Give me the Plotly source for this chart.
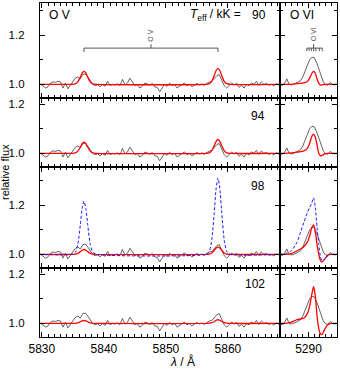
import plotly.graph_objects as go
from plotly.subplots import make_subplots

# --- data -------------------------------------------------------------
teff_labels = ["90", "94", "98", "102"]

# observed spectrum, O V region
wave_obs_ov = [5829.8, 5830.2, 5830.6, 5831.0, 5831.4, 5831.8, 5832.2, 5832.6, 5833.0, 5833.4,
               5833.8, 5834.2, 5834.6, 5835.0, 5835.4, 5835.8, 5836.2, 5836.6, 5837.0, 5837.4,
               5837.8, 5838.2, 5838.6, 5839.0, 5839.4, 5839.8, 5840.2, 5840.6, 5841.0, 5841.4,
               5841.8, 5842.2, 5842.6, 5843.0, 5843.4, 5843.8, 5844.2, 5844.6, 5845.0, 5845.4,
               5845.8, 5846.2, 5846.6, 5847.0, 5847.4, 5847.8, 5848.2, 5848.6, 5849.0, 5849.4,
               5849.8, 5850.2, 5850.6, 5851.0, 5851.4, 5851.8, 5852.2, 5852.6, 5853.0, 5853.4,
               5853.8, 5854.2, 5854.6, 5855.0, 5855.4, 5855.8, 5856.2, 5856.6, 5857.0, 5857.4,
               5857.8, 5858.2, 5858.6, 5859.0, 5859.4, 5859.8, 5860.2, 5860.6, 5861.0, 5861.4,
               5861.8, 5862.2, 5862.6, 5863.0, 5863.4, 5863.8, 5864.2, 5864.6, 5865.0, 5865.4,
               5865.8, 5866.2, 5866.6, 5867.0, 5867.4, 5867.8, 5868.2]
flux_obs_ov = [1.000, 0.992, 0.985, 0.990, 1.005, 1.010, 1.008, 1.012, 1.010, 0.985,
               1.005, 0.982, 0.998, 1.010, 1.025, 1.030, 1.022, 1.040, 1.042, 1.030,
               1.012, 1.000, 0.995, 0.998, 0.990, 1.000, 0.992, 1.012, 0.995, 1.000,
               0.998, 1.002, 0.995, 1.020, 0.998, 1.005, 1.025, 1.008, 0.995, 1.000,
               0.985, 0.992, 1.005, 1.002, 0.996, 1.004, 0.990, 0.988, 0.970, 0.985,
               1.000, 0.992, 1.005, 0.995, 1.000, 0.985, 0.993, 0.998, 1.006, 0.994,
               1.000, 0.990, 0.996, 1.004, 0.998, 1.002, 0.996, 1.004, 1.010, 1.012,
               1.022, 1.035, 1.040, 1.020, 0.995, 0.985, 0.995, 1.005, 0.998, 1.004,
               0.988, 0.996, 0.985, 1.000, 0.994, 1.006, 1.000, 1.012, 0.996, 1.010,
               1.000, 1.004, 0.996, 1.000, 0.994, 1.002, 0.998]

# model spectra, O V region
wave_mod_ov = [5829.7, 5834.8, 5835.4, 5835.8, 5836.2, 5836.5, 5836.8, 5837.1, 5837.4, 5837.8,
               5838.2, 5838.8, 5856.4, 5857.0, 5857.4, 5857.8, 5858.1, 5858.4, 5858.7, 5859.0,
               5859.4, 5859.8, 5860.4, 5868.4]
flux_ov_90 = [1.0, 1.0, 1.002, 1.010, 1.029, 1.046, 1.053, 1.046, 1.029, 1.010, 1.002, 1.0,
              1.0, 1.003, 1.012, 1.036, 1.056, 1.065, 1.056, 1.036, 1.012, 1.003, 1.0, 1.0]
flux_ov_94 = [1.0, 1.0, 1.002, 1.009, 1.025, 1.039, 1.045, 1.039, 1.025, 1.009, 1.002, 1.0,
              1.0, 1.002, 1.011, 1.031, 1.049, 1.057, 1.049, 1.031, 1.011, 1.002, 1.0, 1.0]
flux_ov_98 = [1.0, 1.0, 1.001, 1.004, 1.011, 1.017, 1.020, 1.017, 1.011, 1.004, 1.001, 1.0,
              1.0, 1.001, 1.006, 1.017, 1.026, 1.030, 1.026, 1.017, 1.006, 1.001, 1.0, 1.0]
flux_ov_98_alt = [1.0, 1.0, 1.009, 1.041, 1.119, 1.186, 1.216, 1.186, 1.119, 1.041, 1.009, 1.0,
                  1.0, 1.012, 1.059, 1.171, 1.267, 1.310, 1.267, 1.171, 1.059, 1.012, 1.0, 1.0]
flux_ov_102 = [1.0, 1.0, 1.000, 1.002, 1.007, 1.010, 1.012, 1.010, 1.007, 1.002, 1.000, 1.0,
               1.0, 1.001, 1.003, 1.008, 1.013, 1.015, 1.013, 1.008, 1.003, 1.001, 1.0, 1.0]

# observed spectrum, O VI region
wave_obs_ovi = [5287.5, 5287.7, 5287.9, 5288.1, 5288.3, 5288.5, 5288.7, 5288.9, 5289.1, 5289.3,
                5289.5, 5289.7, 5289.9, 5290.1, 5290.3, 5290.5, 5290.7, 5290.9, 5291.1, 5291.3,
                5291.5, 5291.7, 5291.9, 5292.1, 5292.3, 5292.5]
flux_obs_ovi = [1.000, 0.995, 1.005, 1.022, 1.000, 0.998, 1.000, 1.004, 1.008, 1.015,
                1.030, 1.055, 1.080, 1.100, 1.110, 1.108, 1.090, 1.060, 1.030, 1.010,
                0.998, 0.997, 1.008, 1.000, 0.998, 1.000]

# model spectra, O VI region
wave_mod_ovi = [5287.5, 5288.0, 5288.5, 5289.0, 5289.3, 5289.6, 5289.9, 5290.1, 5290.3, 5290.45,
                5290.6, 5290.75, 5290.9, 5291.05, 5291.2, 5291.4, 5291.7, 5292.0, 5292.5]
flux_ovi_90 = [1.0, 1.0, 1.0, 1.003, 1.004, 1.006, 1.012, 1.025, 1.045, 1.053,
               1.045, 1.022, 1.005, 0.997, 0.998, 1.0, 1.0, 1.0, 1.0]
flux_ovi_94 = [1.0, 1.0, 1.002, 1.005, 1.007, 1.010, 1.020, 1.040, 1.070, 1.078,
               1.065, 1.035, 1.000, 0.990, 0.992, 0.998, 1.0, 1.0, 1.0]
flux_ovi_98 = [1.0, 1.0, 1.003, 1.015, 1.022, 1.032, 1.050, 1.075, 1.110, 1.120,
               1.090, 1.040, 1.000, 0.975, 0.970, 0.980, 0.997, 1.0, 1.0]
flux_ovi_98_alt = [1.0, 1.003, 1.015, 1.050, 1.090, 1.130, 1.170, 1.190, 1.210, 1.230,
                   1.190, 1.110, 1.040, 0.990, 0.972, 0.980, 0.995, 1.0, 1.0]
flux_ovi_102 = [1.0, 1.0, 1.005, 1.015, 1.018, 1.022, 1.040, 1.070, 1.120, 1.150,
                1.110, 1.030, 0.980, 0.957, 0.955, 0.975, 0.995, 1.0, 1.0]

ov_model = [flux_ov_90, flux_ov_94, flux_ov_98, flux_ov_102]
ovi_model = [flux_ovi_90, flux_ovi_94, flux_ovi_98, flux_ovi_102]

# line identifications
ov_lines = [5836.8, 5858.4]
ovi_components = [5289.85, 5290.05, 5290.25, 5290.45, 5290.65, 5290.95, 5291.2]

y_ranges = [[0.945, 1.33], [0.945, 1.225], [0.945, 1.355], [0.945, 1.225]]

# --- figure -----------------------------------------------------------
W, H = 340, 371
ML, MR, MT, MB = 40, 3, 3, 34
spans = [r[1] - r[0] for r in y_ranges]

fig = make_subplots(rows=4, cols=2, column_widths=[240, 57], row_heights=spans,
                    horizontal_spacing=0, vertical_spacing=0)

GRAY = "#3c3c3c"
RED = "#ff0000"
BLUE = "#1a1aff"

for i in range(4):
    r = i + 1
    fig.add_trace(go.Scatter(x=wave_obs_ov, y=flux_obs_ov, mode="lines",
                             line=dict(color=GRAY, width=0.8)), row=r, col=1)
    fig.add_trace(go.Scatter(x=wave_mod_ov, y=ov_model[i], mode="lines",
                             line=dict(color=RED, width=1.3, shape="spline", smoothing=0.6)), row=r, col=1)
    fig.add_trace(go.Scatter(x=wave_obs_ovi, y=flux_obs_ovi, mode="lines",
                             line=dict(color=GRAY, width=0.8)), row=r, col=2)
    fig.add_trace(go.Scatter(x=wave_mod_ovi, y=ovi_model[i], mode="lines",
                             line=dict(color=RED, width=1.3, shape="spline", smoothing=0.6)), row=r, col=2)
    if i == 2:
        fig.add_trace(go.Scatter(x=wave_mod_ov, y=flux_ov_98_alt, mode="lines",
                                 line=dict(color=BLUE, width=1, dash="3px,2px", shape="spline", smoothing=0.6)),
                      row=r, col=1)
        fig.add_trace(go.Scatter(x=wave_mod_ovi, y=flux_ovi_98_alt, mode="lines",
                                 line=dict(color=BLUE, width=1, dash="3px,2px", shape="spline", smoothing=0.6)),
                      row=r, col=2)

axis_style = dict(showline=True, linecolor="black", linewidth=1.2, mirror="ticks",
                  ticks="inside", ticklen=5, tickwidth=1, tickcolor="black",
                  showgrid=False, zeroline=False,
                  tickfont=dict(family="Liberation Sans, Arial", size=12, color="black"))

for i in range(4):
    r = i + 1
    last = (r == 4)
    fig.update_xaxes(axis_style, range=[5829.7, 5868.4], tick0=5830, dtick=10,
                     minor=dict(ticks="inside", ticklen=3, dtick=1, tickcolor="black"),
                     showticklabels=last, ticklabelstandoff=0, row=r, col=1)
    fig.update_xaxes(axis_style, range=[5287.5, 5292.5], tick0=5290, dtick=5,
                     minor=dict(ticks="inside", ticklen=3, dtick=0.5, tickcolor="black"),
                     showticklabels=last, ticklabelstandoff=0, row=r, col=2)
    fig.update_yaxes(axis_style, range=y_ranges[i], tick0=1.0, dtick=0.2, tickformat=".1f",
                     tickfont=dict(family="Liberation Sans, Arial", size=11.5, color="black"),
                     minor=dict(ticks="inside", ticklen=3, dtick=0.1, tickcolor="black"),
                     showticklabels=True, ticklabelstandoff=12, row=r, col=1)
    fig.update_yaxes(axis_style, range=y_ranges[i], tick0=1.0, dtick=0.2,
                     minor=dict(ticks="inside", ticklen=3, dtick=0.1, tickcolor="black"),
                     showticklabels=False, row=r, col=2)


def paper(px, py):
    return (px - ML) / (W - ML - MR), (H - MB - py) / (H - MT - MB)


FONT = dict(family="Liberation Sans, Arial", size=12, color="black")
notes = [
    ("O V", 47, 15, "left"),
    ("<i>T</i><sub>eff</sub> / kK =", 243, 15, "right"),
    (teff_labels[0], 268, 15, "right"),
    ("O VI", 288, 15, "left"),
    (teff_labels[1], 267, 116, "right"),
    (teff_labels[2], 267, 186, "right"),
    (teff_labels[3], 267, 284, "right"),
]
for text, px, py, anchor in notes:
    xp, yp = paper(px, py)
    fig.add_annotation(x=xp, y=yp, xref="paper", yref="paper", text=text, showarrow=False,
                       xanchor=anchor, yanchor="middle", font=FONT)

xp, yp = paper(5, 172)
fig.add_annotation(x=xp, y=yp, xref="paper", yref="paper", text="relative flux", textangle=-90,
                   showarrow=False, xanchor="center", yanchor="middle",
                   font=dict(family="Liberation Sans, Arial", size=11, color="black"))
xp, yp = paper(182, 371)
fig.add_annotation(x=xp, y=yp, xref="paper", yref="paper", text="<i>λ</i> / Å",
                   showarrow=False, xanchor="center", yanchor="bottom", font=FONT)

# O V line identification bracket
ID_COLOR = "#555555"
ybar = 1.147
ov_mid = (ov_lines[0] + ov_lines[1]) / 2
fig.add_shape(type="line", x0=ov_lines[0], x1=ov_lines[1], y0=ybar, y1=ybar,
              line=dict(color=ID_COLOR, width=1), xref="x", yref="y")
for lw in ov_lines:
    fig.add_shape(type="line", x0=lw, x1=lw, y0=ybar, y1=ybar - 0.016,
                  line=dict(color=ID_COLOR, width=1), xref="x", yref="y")
fig.add_shape(type="line", x0=ov_mid, x1=ov_mid, y0=ybar, y1=ybar + 0.016,
              line=dict(color=ID_COLOR, width=1), xref="x", yref="y")
fig.add_annotation(x=ov_mid, y=ybar + 0.018, xref="x", yref="y", text="O V", textangle=-90,
                   showarrow=False, xanchor="center", yanchor="bottom",
                   font=dict(family="Liberation Sans, Arial", size=7, color=ID_COLOR))

# O VI line identification
ovi_mid = ovi_components[3]
fig.add_shape(type="line", x0=ovi_components[0], x1=ovi_components[-1], y0=ybar, y1=ybar,
              line=dict(color=ID_COLOR, width=1), xref="x2", yref="y2")
for lw in ovi_components:
    fig.add_shape(type="line", x0=lw, x1=lw, y0=ybar, y1=ybar - 0.012,
                  line=dict(color=ID_COLOR, width=1), xref="x2", yref="y2")
fig.add_shape(type="line", x0=ovi_mid, x1=ovi_mid, y0=ybar, y1=ybar + 0.016,
              line=dict(color=ID_COLOR, width=1), xref="x2", yref="y2")
fig.add_annotation(x=ovi_mid, y=ybar + 0.018, xref="x2", yref="y2", text="O VI", textangle=-90,
                   showarrow=False, xanchor="center", yanchor="bottom",
                   font=dict(family="Liberation Sans, Arial", size=7, color=ID_COLOR))

fig.update_layout(width=W, height=H, margin=dict(l=ML, r=MR, t=MT, b=MB),
                  plot_bgcolor="white", paper_bgcolor="white", showlegend=False)

# page body margin would shift the figure by 8 px
fig.write_html("out.html", config={"displayModeBar": False},
               post_script="document.body.style.margin='0';")
